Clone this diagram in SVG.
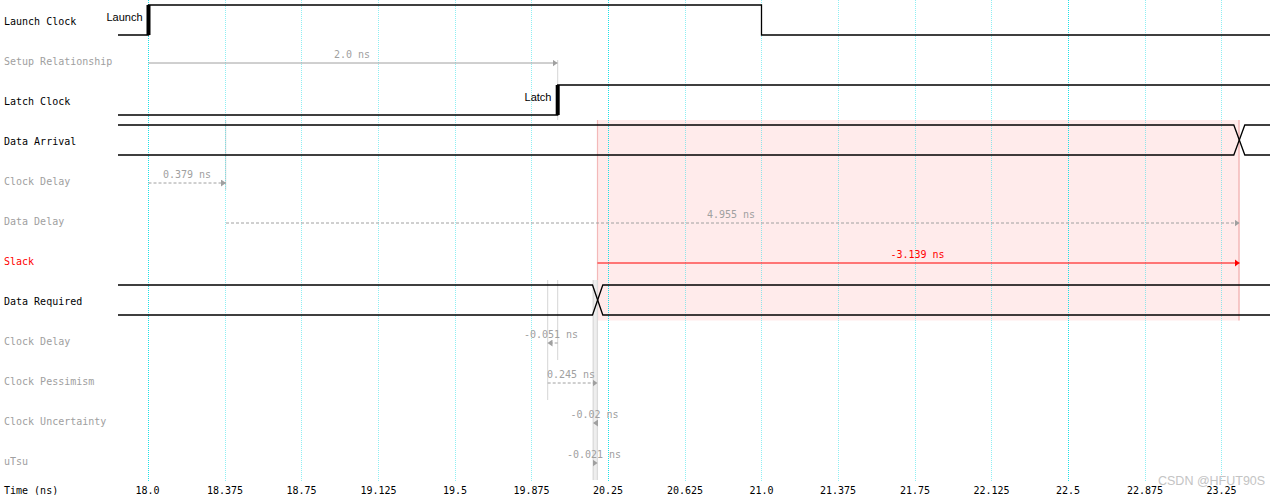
<svg xmlns="http://www.w3.org/2000/svg" width="1275" height="495" viewBox="0 0 1275 495">
<style>
.lbl{font-family:"DejaVu Sans Mono","Liberation Mono",monospace;font-size:10px}
.blk{fill:#000}
.gry{fill:#a0a0a0}
.red{fill:#ff0000}
.num{font-family:"DejaVu Sans Mono","Liberation Mono",monospace;font-size:10px;text-anchor:middle}
.edge{font-family:"Liberation Sans",Arial,sans-serif;font-size:11px;fill:#000;text-anchor:end}
.wave{fill:none;stroke:#000;stroke-width:1.3}
.grid{stroke:#1ee0e8;stroke-width:1;stroke-dasharray:1,1}
.minor{stroke-opacity:0.5}
.mark{stroke:#d6d6d6;stroke-width:1}
.arr{fill:none;stroke:#a0a0a0;stroke-width:1}
.dash{stroke-dasharray:3,2}
</style>
<defs>
<marker id="ag" markerUnits="userSpaceOnUse" markerWidth="6" markerHeight="7" refX="5" refY="3.5" orient="auto">
<path d="M0,0 L5,3.5 L0,7 z" fill="#a0a0a0"/>
</marker>
<marker id="ar" markerUnits="userSpaceOnUse" markerWidth="6" markerHeight="8" refX="5" refY="4" orient="auto">
<path d="M0,0 L5,4 L0,8 z" fill="#ff0000"/>
</marker>
</defs>
<rect width="1275" height="495" fill="#fff"/>

<g id="slack-region">
<rect x="597.5" y="120" width="641.8" height="200.5" fill="#ffebeb"/>
<line x1="597.5" y1="120" x2="597.5" y2="320.5" stroke="#f3b9b9" stroke-width="1.2"/>
<line x1="1239" y1="120" x2="1239" y2="320.5" stroke="#f3b9b9" stroke-width="1.5"/>
</g>

<g id="markers">
<line class="mark" x1="557.7" y1="60" x2="557.7" y2="120"/>
<line class="mark" x1="225.7" y1="120" x2="225.7" y2="190"/>
<line class="mark" x1="547.7" y1="280" x2="547.7" y2="400"/>
<line class="mark" x1="557.7" y1="280" x2="557.7" y2="360"/>
<rect x="592.7" y="280" width="5.4" height="200" fill="#eeeeee"/>
<line class="mark" x1="593.2" y1="280" x2="593.2" y2="480"/>
<line class="mark" x1="597.3" y1="280" x2="597.3" y2="480"/>
</g>

<g id="grid">
<line class="grid" x1="148.5" y1="0" x2="148.5" y2="481"/>
<line class="grid minor" x1="225.5" y1="0" x2="225.5" y2="481"/>
<line class="grid minor" x1="301.5" y1="0" x2="301.5" y2="481"/>
<line class="grid minor" x1="378.5" y1="0" x2="378.5" y2="481"/>
<line class="grid minor" x1="455.5" y1="0" x2="455.5" y2="481"/>
<line class="grid minor" x1="531.5" y1="0" x2="531.5" y2="481"/>
<line class="grid" x1="608.5" y1="0" x2="608.5" y2="481"/>
<line class="grid minor" x1="685.5" y1="0" x2="685.5" y2="481"/>
<line class="grid minor" x1="761.5" y1="0" x2="761.5" y2="481"/>
<line class="grid minor" x1="838.5" y1="0" x2="838.5" y2="481"/>
<line class="grid minor" x1="915.5" y1="0" x2="915.5" y2="481"/>
<line class="grid minor" x1="991.5" y1="0" x2="991.5" y2="481"/>
<line class="grid" x1="1068.5" y1="0" x2="1068.5" y2="481"/>
<line class="grid minor" x1="1145.5" y1="0" x2="1145.5" y2="481"/>
<line class="grid minor" x1="1221.5" y1="0" x2="1221.5" y2="481"/>
</g>

<g id="launch-clock">
<text class="lbl blk" x="4" y="25">Launch Clock</text>
<path class="wave" d="M118,35 H148.5 V5 H761.5 V35 H1270"/>
<rect x="146.5" y="5" width="4" height="30" fill="#000"/>
<text class="edge" x="142.5" y="21">Launch</text>
</g>

<g id="setup-relationship">
<text class="lbl gry" x="4" y="65">Setup Relationship</text>
</g>

<g id="latch-clock">
<text class="lbl blk" x="4" y="105">Latch Clock</text>
<path class="wave" d="M118,115 H557.7 V85 H1270"/>
<rect x="555.7" y="85" width="4" height="30" fill="#000"/>
<text class="edge" x="551.5" y="100.5">Latch</text>
</g>

<g id="data-arrival">
<text class="lbl blk" x="4" y="145">Data Arrival</text>
<path class="wave" d="M118,125 H1233.8 L1244.8,155 H1270"/>
<path class="wave" d="M118,155 H1233.8 L1244.8,125 H1270"/>
</g>

<g id="clock-delay-launch">
<text class="lbl gry" x="4" y="185">Clock Delay</text>
</g>

<g id="data-delay">
<text class="lbl gry" x="4" y="225">Data Delay</text>
</g>

<g id="slack">
<text class="lbl red" x="4" y="265">Slack</text>
</g>

<g id="data-required">
<text class="lbl blk" x="4" y="305">Data Required</text>
<path class="wave" d="M118,285 H592.5 L602.8,315 H1270"/>
<path class="wave" d="M118,315 H592.5 L602.8,285 H1270"/>
</g>

<g id="clock-delay-latch">
<text class="lbl gry" x="4" y="345">Clock Delay</text>
</g>

<g id="clock-pessimism">
<text class="lbl gry" x="4" y="385">Clock Pessimism</text>
</g>

<g id="clock-uncertainty">
<text class="lbl gry" x="4" y="425">Clock Uncertainty</text>
</g>

<g id="utsu">
<text class="lbl gry" x="4" y="465">uTsu</text>
</g>

<g id="connectors">
<line class="arr" x1="148.5" y1="63" x2="557.5" y2="63" stroke="#999" marker-end="url(#ag)"/>
<text class="num gry" x="352" y="58">2.0 ns</text>
<line class="arr dash" x1="148.5" y1="183" x2="226" y2="183" marker-end="url(#ag)"/>
<text class="num gry" x="187" y="178">0.379 ns</text>
<line class="arr dash" x1="226" y1="223" x2="1239.5" y2="223" marker-end="url(#ag)"/>
<text class="num gry" x="731" y="218">4.955 ns</text>
<line x1="597.5" y1="263" x2="1239.5" y2="263" stroke="#ff0000" stroke-width="1.2" marker-end="url(#ar)"/>
<text class="num red" x="917.5" y="258">-3.139 ns</text>
<line class="arr dash" x1="557.7" y1="343" x2="547.5" y2="343" marker-end="url(#ag)"/>
<text class="num gry" x="551" y="338">-0.051 ns</text>
<line class="arr dash" x1="547.7" y1="383" x2="597.5" y2="383" marker-end="url(#ag)"/>
<text class="num gry" x="571" y="378">0.245 ns</text>
<line class="arr dash" x1="597.3" y1="423" x2="593" y2="423" marker-end="url(#ag)"/>
<text class="num gry" x="594.5" y="418">-0.02 ns</text>
<line class="arr dash" x1="593" y1="463" x2="597.6" y2="463" marker-end="url(#ag)"/>
<text class="num gry" x="594" y="458">-0.021 ns</text>
</g>

<g id="time-axis">
<text class="lbl blk" x="4" y="494">Time (ns)</text>
<text class="num blk" x="147.5" y="494">18.0</text>
<text class="num blk" x="225" y="494">18.375</text>
<text class="num blk" x="301.5" y="494">18.75</text>
<text class="num blk" x="378.5" y="494">19.125</text>
<text class="num blk" x="455" y="494">19.5</text>
<text class="num blk" x="531.5" y="494">19.875</text>
<text class="num blk" x="608" y="494">20.25</text>
<text class="num blk" x="685" y="494">20.625</text>
<text class="num blk" x="761.5" y="494">21.0</text>
<text class="num blk" x="838" y="494">21.375</text>
<text class="num blk" x="915" y="494">21.75</text>
<text class="num blk" x="991.5" y="494">22.125</text>
<text class="num blk" x="1068" y="494">22.5</text>
<text class="num blk" x="1145" y="494">22.875</text>
<text class="num blk" x="1221.5" y="494">23.25</text>
</g>

<text x="1158" y="485" font-family="Liberation Sans, Arial, sans-serif" font-size="12.5" fill="#c4c4c4">CSDN @HFUT90S</text>
</svg>
